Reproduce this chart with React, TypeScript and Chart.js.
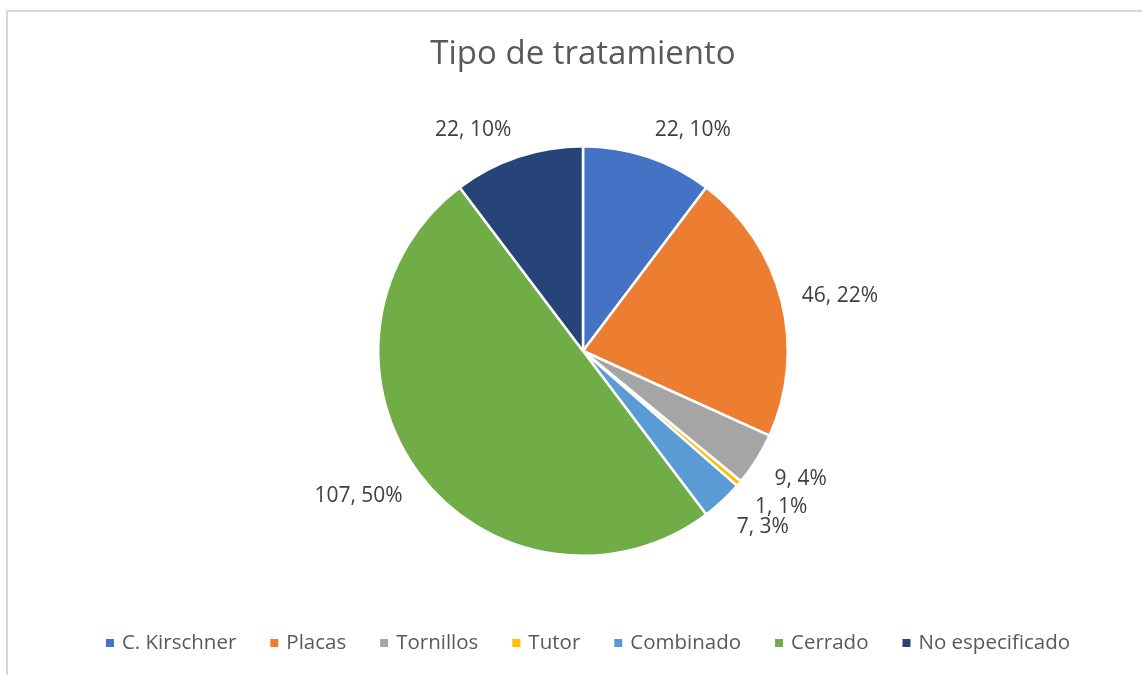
import React, { useEffect, useRef } from "react";
import { Chart, registerables } from "chart.js";

Chart.register(...registerables);

const chartTitle = "Tipo de tratamiento";
const categories = ["C. Kirschner", "Placas", "Tornillos", "Tutor", "Combinado", "Cerrado", "No especificado"];
const counts = [22, 46, 9, 1, 7, 107, 22];
const percentLabels = ["10%", "22%", "4%", "1%", "3%", "50%", "10%"];
const sliceColors = ["#4472C4", "#ED7D31", "#A5A5A5", "#FFC000", "#5B9BD5", "#70AD47", "#264478"];

const FONT = "'Open Sans', Lato, sans-serif";

const decorPlugin = {
  id: "decor",
  afterDraw(chart: any) {
    const ctx = chart.ctx;
    ctx.save();
    // title
    ctx.fillStyle = "#595959";
    ctx.font = `33px ${FONT}`;
    ctx.textAlign = "center";
    ctx.textBaseline = "middle";
    ctx.fillText(chartTitle, 583, 55);

    // data labels
    const meta = chart.getDatasetMeta(0);
    ctx.font = `21px ${FONT}`;
    ctx.fillStyle = "#404040";
    meta.data.forEach((arc: any, i: number) => {
      const { x, y, startAngle, endAngle, outerRadius } = arc.getProps(["x", "y", "startAngle", "endAngle", "outerRadius"], true);
      const mid = (startAngle + endAngle) / 2;
      const th = mid + Math.PI / 2; // clockwise from top
      const s = Math.sin(th);
      const c = Math.cos(th);
      const D = outerRadius + 21;
      const px = x + D * s;
      const py = y - D * c;
      const text = `${counts[i]}, ${percentLabels[i]}`;
      const tw = ctx.measureText(text).width;
      const cx = px + (s >= 0 ? tw / 2 : -tw / 2);
      const cy = py - 10 * c + 3;
      ctx.textAlign = "center";
      ctx.textBaseline = "middle";
      ctx.fillText(text, cx, cy);
    });

    // legend
    ctx.font = `20.5px ${FONT}`;
    const box = 8;
    const gapBox = 8;
    const gapItem = 34;
    const widths = categories.map((c) => ctx.measureText(c).width);
    const total = widths.reduce((a, b) => a + b, 0) + categories.length * (box + gapBox) + (categories.length - 1) * gapItem;
    let lx = 588 - total / 2;
    const ly = 643;
    ctx.textAlign = "left";
    ctx.textBaseline = "middle";
    categories.forEach((cat, i) => {
      ctx.fillStyle = sliceColors[i];
      ctx.fillRect(lx, ly - box / 2, box, box);
      lx += box + gapBox;
      ctx.fillStyle = "#595959";
      ctx.fillText(cat, lx, ly);
      lx += widths[i] + gapItem;
    });
    ctx.restore();
  },
};

export default function App() {
  const ref = useRef<HTMLCanvasElement>(null);
  useEffect(() => {
    if (!ref.current) return;
    const chart = new Chart(ref.current, {
      type: "pie",
      data: {
        labels: categories,
        datasets: [
          {
            data: counts,
            backgroundColor: sliceColors,
            borderColor: "#ffffff",
            borderWidth: 2.5,
          },
        ],
      },
      options: {
        animation: false,
        responsive: false,
        layout: { padding: { left: 377, right: 353, top: 145, bottom: 118 } },
        plugins: {
          legend: { display: false },
          title: { display: false },
          tooltip: { enabled: false },
        },
      },
      plugins: [decorPlugin],
    });
    return () => chart.destroy();
  }, []);
  return (
    <div style={{ position: "fixed", left: 0, top: 0, width: 1142, height: 675, overflow: "hidden", background: "#fff" }}>
      <div
        style={{
          position: "absolute",
          left: 6,
          top: 10,
          width: 1200,
          height: 700,
          border: "2px solid #d9d9d9",
          boxSizing: "border-box",
        }}
      />
      <canvas ref={ref} width={1142} height={675} style={{ position: "absolute", left: 0, top: 0, width: 1142, height: 675 }} />
    </div>
  );
}
